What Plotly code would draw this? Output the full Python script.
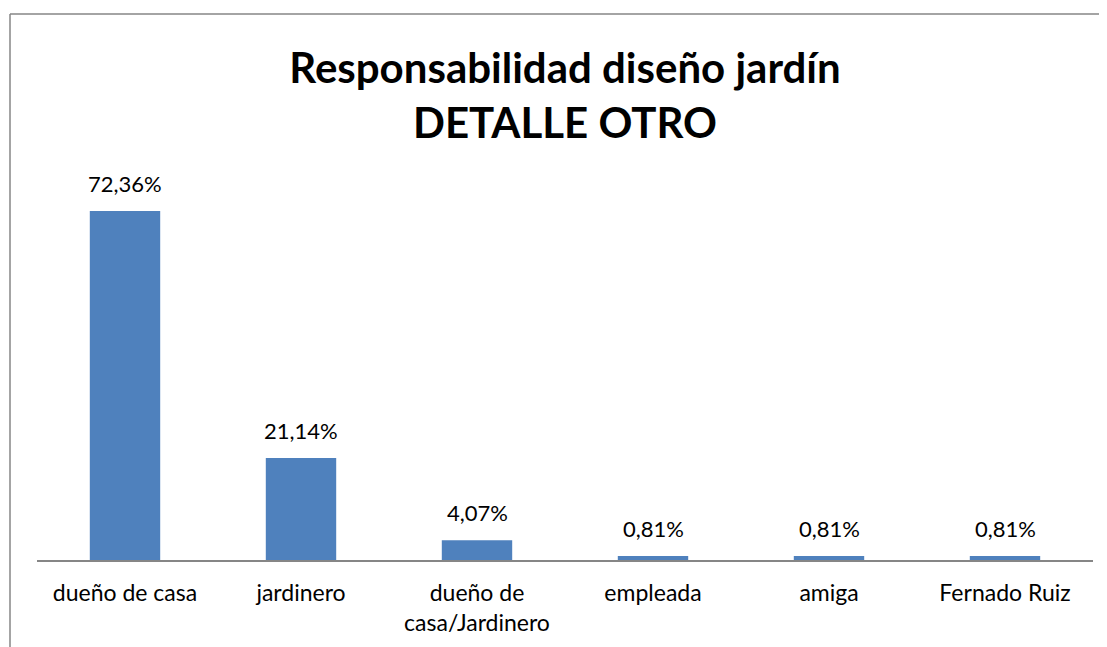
import plotly.graph_objects as go

categories = ["dueño de casa", "jardinero", "dueño de<br>casa/Jardinero", "empleada", "amiga", "Fernado Ruiz"]
values = [72.36, 21.14, 4.07, 0.81, 0.81, 0.81]
labels = [f"{v:.2f}".replace(".", ",") + "%" for v in values]

W, H = 1107, 647
OFF = 8  # page body margin offset
FONT = "Lato, Carlito, sans-serif"
base_y = 560 - OFF
top_y = 150 - OFF
px_per_unit = (560 - 211) / 72.36

fig = go.Figure(go.Bar(
    x=categories, y=values,
    marker=dict(color="#4F81BD", line=dict(width=0)),
    cliponaxis=False,
))
for c, v, t in zip(categories, values, labels):
    fig.add_annotation(x=c, y=v, xref="x", yref="y", text=t, showarrow=False,
                       yanchor="bottom", yshift=12,
                       font=dict(family=FONT, size=22, color="#000000"))
fig.update_layout(
    width=W, height=H,
    margin=dict(l=0, r=0, t=0, b=0),
    paper_bgcolor="white", plot_bgcolor="white",
    bargap=0.6, showlegend=False,
    title=dict(text="<b>Responsabilidad diseño jardín<br>DETALLE OTRO</b>",
               x=(565 - OFF) / W, xanchor="center", y=1 - (83 - OFF) / H, yanchor="middle",
               font=dict(family=FONT, size=42, color="#000000")),
    xaxis=dict(domain=[(37 - OFF) / W, (1093 - OFF) / W], showline=True, linecolor="#868686", linewidth=1.5,
               ticks="outside", ticklen=12, tickcolor="rgba(0,0,0,0)",
               tickfont=dict(family=FONT, size=23, color="#000000"),
               showgrid=False, fixedrange=True),
    yaxis=dict(domain=[(H - base_y) / H, 1 - top_y / H], range=[0, (base_y - top_y) / px_per_unit],
               visible=False, showgrid=False, zeroline=False),
    shapes=[
        dict(type="line", xref="paper", yref="paper", x0=(10 - OFF) / W, x1=1,
             y0=1 - (14 - OFF) / H, y1=1 - (14 - OFF) / H,
             line=dict(color="#868686", width=1.5)),
        dict(type="line", xref="paper", yref="paper", x0=(10 - OFF) / W, x1=(10 - OFF) / W,
             y0=1 - (14 - OFF) / H, y1=0,
             line=dict(color="#868686", width=1.5)),
    ],
)
fig.write_html("out.html", config={"displayModeBar": False},
               post_script="document.body.style.overflow='hidden';")
